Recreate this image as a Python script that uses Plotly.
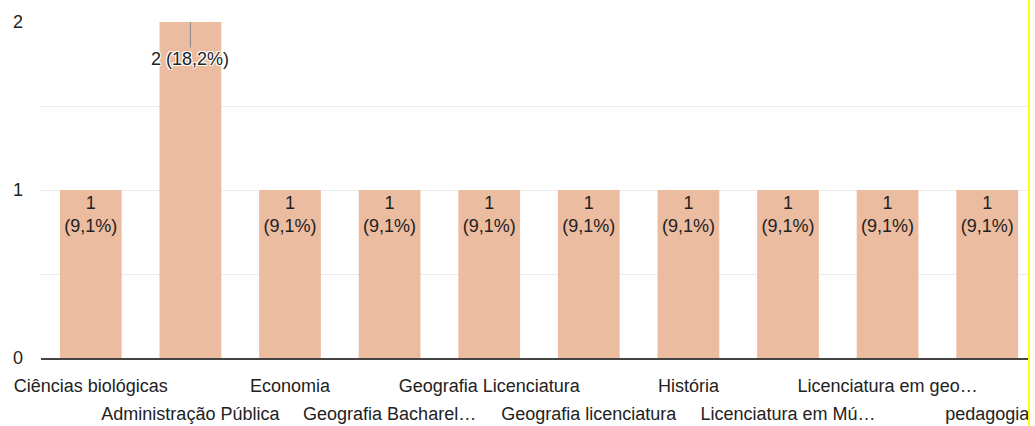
import plotly.graph_objects as go

categories = ["Ciências biológicas", "Administração Pública", "Economia",
              "Geografia Bacharelado", "Geografia Licenciatura", "Geografia licenciatura",
              "História", "Licenciatura em Música", "Licenciatura em geografia", "pedagogia"]
tick_labels = ["Ciências biológicas", "Administração Pública", "Economia",
               "Geografia Bacharel…", "Geografia Licenciatura", "Geografia licenciatura",
               "História", "Licenciatura em Mú…", "Licenciatura em geo…", "pedagogia"]
values = [1, 2, 1, 1, 1, 1, 1, 1, 1, 1]
percents = ["9,1%", "18,2%", "9,1%", "9,1%", "9,1%", "9,1%", "9,1%", "9,1%", "9,1%", "9,1%"]

vmax = max(values)
bar_text = [("" if v == vmax else f"{v}<br>({p})") for v, p in zip(values, percents)]

BAR = "#ECBCA0"
TXT = "#222222"
FONT = "Liberation Sans, Arial, sans-serif"
FS = 18

fig = go.Figure()
fig.add_trace(go.Bar(
    x=categories, y=values, text=bar_text,
    textposition="inside", insidetextanchor="end",
    insidetextfont=dict(size=FS, color=TXT, family=FONT),
    marker=dict(color=BAR, line=dict(width=0)),
    width=0.62, hoverinfo="skip", cliponaxis=False,
))

for c, v, p in zip(categories, values, percents):
    if v == vmax:
        fig.add_annotation(x=c, y=v, xref="x", yref="y", text=f"{v} ({p})",
                           showarrow=True, arrowhead=0, arrowwidth=1, arrowcolor="#888888",
                           ax=0, ay=37,
                           font=dict(size=FS, color=TXT, family=FONT,
                                     shadow="1px 1px 0 #fff, -1px -1px 0 #fff, 1px -1px 0 #fff, -1px 1px 0 #fff"))

n = len(categories)
rng = [-0.5, n - 0.5 - 9.0 / 99.6]
even = [categories[i] for i in range(0, n, 2)]
odd = [categories[i] for i in range(1, n, 2)]

fig.update_layout(
    width=1035, height=426,
    margin=dict(l=41, r=7, t=22, b=68),
    paper_bgcolor="white", plot_bgcolor="white",
    showlegend=False,
    font=dict(family=FONT, size=FS, color=TXT),
    xaxis=dict(type="category", categoryarray=categories, range=rng, automargin=False,
               tickvals=even, ticktext=[tick_labels[i] for i in range(0, n, 2)],
               showgrid=False, showline=True, linecolor="#444444", linewidth=2,
               ticks="", ticklabelstandoff=10, tickfont=dict(size=FS, color=TXT)),
    xaxis2=dict(type="category", categoryarray=categories, range=rng, automargin=False,
                overlaying="x", matches="x", anchor="y", side="bottom",
                tickvals=odd, ticktext=[tick_labels[i] for i in range(1, n, 2)],
                showgrid=False, showline=False, ticks="", ticklabelstandoff=43,
                tickfont=dict(size=FS, color=TXT)),
    yaxis=dict(range=[0, 2], tickvals=[0, 0.5, 1, 1.5, 2], ticktext=["0", "", "1", "", "2"],
               showgrid=True, gridcolor="#ebebeb", gridwidth=1, zeroline=False, automargin=False,
               ticks="", ticklabelstandoff=17, tickfont=dict(size=FS, color=TXT)),
    shapes=[dict(type="line", xref="paper", yref="paper",
                 x0=1 + 1.0 / 987, x1=1 + 1.0 / 987, y0=-68 / 336, y1=1 + 22 / 336,
                 line=dict(color="#FFFF00", width=2))],
)
fig.add_trace(go.Scatter(x=odd, y=[0] * len(odd), xaxis="x2", yaxis="y",
                         mode="markers", marker=dict(opacity=0), hoverinfo="skip"))

fig.write_html("out.html")
